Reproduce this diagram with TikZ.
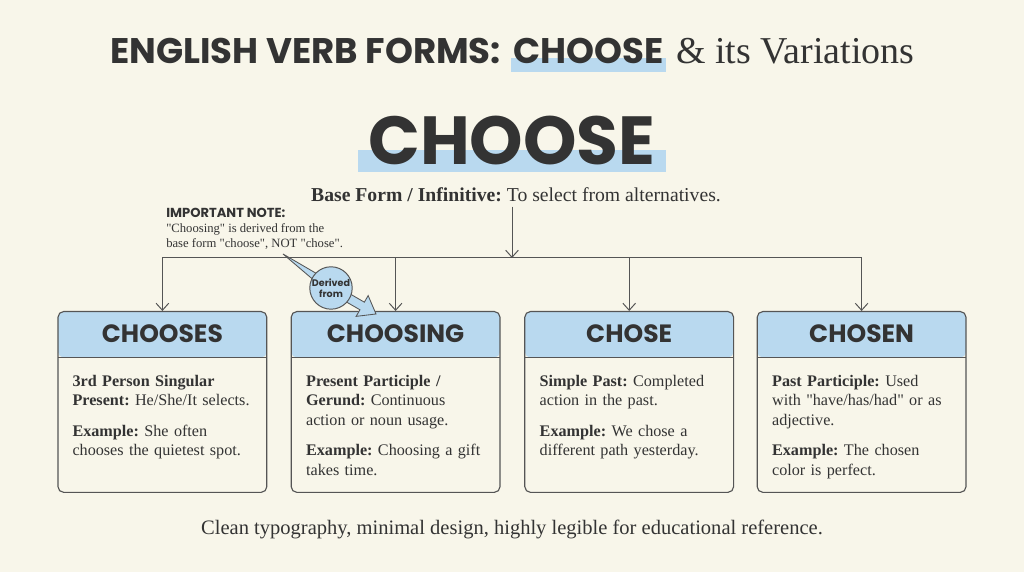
\documentclass[tikz,border=0pt]{standalone}
\usepackage{fontspec}
\setmainfont{Liberation Serif}[Ligatures=TeXOff]
\newfontfamily\headfont{Poppins}
\usepackage{tikz}
\usetikzlibrary{positioning, calc, arrows.meta, backgrounds}
\definecolor{paper}{HTML}{F8F6EA}
\definecolor{headblue}{HTML}{B9D9EF}
\definecolor{ink}{HTML}{333333}
\definecolor{wire}{HTML}{555555}
\frenchspacing

\begin{document}
\begin{tikzpicture}[>={Straight Barb[length=5pt,width=9pt]},
  formbox/.style={rectangle, draw=wire, line width=0.8pt, rounded corners=4pt,
    minimum width=5.22cm, minimum height=4.52cm, anchor=north, fill=paper,
    path picture={
      \fill[headblue] (path picture bounding box.north west)
        rectangle ([yshift=-1.15cm]path picture bounding box.north east);
      \draw[wire, line width=0.8pt] ([yshift=-1.15cm]path picture bounding box.north west)
        -- ([yshift=-1.15cm]path picture bounding box.north east);}},
  headtext/.style={font=\headfont\bfseries\fontsize{17.8}{20}\selectfont, text=ink, inner sep=0pt},
  bodytext/.style={anchor=north west, text width=4.7cm, align=left, inner sep=0pt,
    font=\fontsize{11.5}{13.8}\selectfont, text=ink},
  titlesans/.style={font=\headfont\bfseries\fontsize{25.3}{29}\selectfont, text=ink, inner sep=0pt, anchor=base west},
  link/.style={draw=wire, line width=0.7pt}]
  % Paper
  \begin{scope}[on background layer]
    \fill[paper] (0,0) rectangle (25.6,14.3);
  \end{scope}
  \useasboundingbox (0,0) rectangle (25.6,14.3);
  % Title
  \node[titlesans] (ttl1) at (2.75,12.7) {ENGLISH VERB FORMS:};
  \node[titlesans] (ttl2) at ([xshift=0.3cm]ttl1.base east) {CHOOSE};
  \node[anchor=base west, inner sep=0pt, text=ink, font=\fontsize{27}{31}\selectfont]
    (ttl3) at ([xshift=0.3cm]ttl2.base east) {\& its Variations};
  % Main verb
  \node[anchor=base, inner sep=0pt, text=ink, font=\headfont\bfseries\fontsize{48.4}{52}\selectfont]
    (verb) at (12.8,10.175) {CHOOSE};
  \node[anchor=base, inner sep=0pt, text=ink, font=\fontsize{14}{17}\selectfont]
    (base) at (12.9,9.25) {\textbf{Base Form / Infinitive:} To select from alternatives.};
  \begin{scope}[on background layer]
    \fill[headblue] ([xshift=-0.05cm,yshift=-0.2cm]ttl2.base west)
      rectangle ([xshift=0.05cm,yshift=0.15cm]ttl2.base east);
    \fill[headblue] ([xshift=-0.25cm,yshift=-0.175cm]verb.base west)
      rectangle ([xshift=0.25cm,yshift=0.375cm]verb.base east);
  \end{scope}
  % Note
  \node[anchor=north west, inner sep=0pt, align=left, text=ink, font=\fontsize{9}{10.6}\selectfont]
    (note) at (4.15,9.1) {{\headfont\bfseries\fontsize{9.3}{10}\selectfont IMPORTANT NOTE:}\\
    "Choosing" is derived from the\\ base form "choose", NOT "chose".};
  % Form boxes
  \node[formbox] (b1) at (4.06,6.525) {};
  \node[formbox] (b2) at (9.89,6.525) {};
  \node[formbox] (b3) at (15.73,6.525) {};
  \node[formbox] (b4) at (21.54,6.525) {};
  \foreach \b/\w in {b1/CHOOSES, b2/CHOOSING, b3/CHOSE, b4/CHOSEN}
    \node[headtext] (\b h) at ([yshift=-0.575cm]\b.north) {\w};
  \node[bodytext] (b1t) at ([shift={(0.37,-1.6)}]b1.north west)
    {\textbf{3rd Person Singular}\\ \textbf{Present:} He/She/It selects.\\[8pt]
     \textbf{Example:} She often\\ chooses the quietest spot.};
  \node[bodytext] (b2t) at ([shift={(0.38,-1.6)}]b2.north west)
    {\textbf{Present Participle /}\\ \textbf{Gerund:} Continuous\\ action or noun usage.\\[8pt]
     \textbf{Example:} Choosing a gift\\ takes time.};
  \node[bodytext] (b3t) at ([shift={(0.38,-1.6)}]b3.north west)
    {\textbf{Simple Past:} Completed\\ action in the past.\\[8pt]
     \textbf{Example:} We chose a\\ different path yesterday.};
  \node[bodytext] (b4t) at ([shift={(0.38,-1.6)}]b4.north west)
    {\textbf{Past Participle:} Used\\ with "have/has/had" or as\\ adjective.\\[8pt]
     \textbf{Example:} The chosen\\ color is perfect.};
  % Connectors
  \coordinate (j) at (12.8,7.85);
  \draw[link, ->] ([yshift=-0.1cm]base.south -| j) -- (j);
  \draw[link] (b1.north |- j) -- (b4.north |- j);
  \foreach \b in {b1,b2,b3,b4}
    \draw[link, ->] (\b.north |- j) -- (\b.north);
  % Derived from callout
  \coordinate (dc) at (8.275,7.1);
  \coordinate (nt) at (7.075,7.95);
  \coordinate (tip) at (9.4,6.45);
  \coordinate (hb) at ($(tip)!0.4cm!(dc)$);
  \coordinate (ta) at ($(dc)!0.45cm!(tip)$);
  \filldraw[fill=headblue, draw=wire, line width=0.6pt]
    (nt) -- ($(dc)!0.13cm!90:(nt)$) -- ($(dc)!0.13cm!-90:(nt)$) -- cycle;
  \filldraw[fill=headblue, draw=wire, line width=0.6pt]
    ($(ta)!0.11cm!90:(tip)$) -- ($(hb)!0.11cm!90:(tip)$) -- ($(hb)!0.3cm!90:(tip)$)
    -- (tip) -- ($(hb)!0.3cm!-90:(tip)$) -- ($(hb)!0.11cm!-90:(tip)$)
    -- ($(ta)!0.11cm!-90:(tip)$) -- cycle;
  \node[circle, draw=wire, line width=0.7pt, fill=headblue, minimum size=1.02cm, inner sep=0pt,
    align=center, text=ink, font=\headfont\bfseries\fontsize{6.8}{8}\selectfont]
    (der) at (dc) {Derived\\from};
  % Footer
  \node[anchor=base, inner sep=0pt, text=ink, font=\fontsize{14.6}{17}\selectfont]
    (foot) at (12.8,0.925) {Clean typography, minimal design, highly legible for educational reference.};
\end{tikzpicture}
\end{document}
